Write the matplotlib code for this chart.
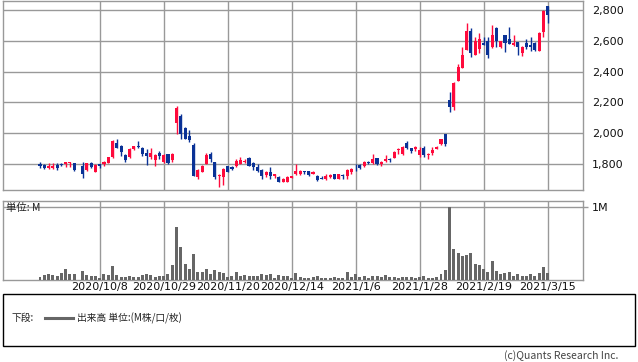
"""Candlestick + volume chart (Quants Research style)."""
import matplotlib
matplotlib.use("Agg")
import matplotlib.pyplot as plt
import matplotlib.patches as mpatches
from matplotlib.lines import Line2D
import numpy as np

plt.rcParams['font.family'] = ['DejaVu Sans', 'Noto Sans CJK JP']
JP = ['Noto Sans CJK JP', 'DejaVu Sans']

nan = np.nan

# daily OHLC (index 9 = 2020/10/1, no trading)
opens = [1800, 1795, 1772, 1775, 1795, 1797, 1802, 1808, 1805, nan,
         1790, 1762, 1805, 1750, 1797, 1797, 1808, 1843, 1935, 1915,
         1858, 1848, 1897, 1915, 1905, 1870, 1845, 1825, 1870, 1812,
         1865, 1825, 2068, 2115, 2033, 1985, 1923, 1718, 1750, 1800,
         1868, 1813, 1720, 1717, 1785, 1780, 1785, 1802, 1815, 1842,
         1808, 1783, 1762, 1730, 1748, 1722, 1717, 1685, 1685, 1712,
         1735, 1737, 1754, 1752, 1735, 1725, 1712, 1700, 1715, 1732,
         1700, 1728, 1722, 1745, 1762, 1795, 1785, 1815, 1805, 1838,
         1798, 1817, 1835, 1840, 1890, 1862, 1935, 1903, 1900, 1857,
         1905, 1857, 1870, 1900, 1927, 1995, 2215, 2172, 2342, 2424,
         2540, 2666, 2510, 2550, 2585, 2597, 2557, 2683, 2557, 2635,
         2615, 2575, 2590, 2520, 2583, 2575, 2588, 2535, 2655, 2825]
highs = [1812, 1797, 1805, 1805, 1805, 1805, 1815, 1812, 1805, nan,
         1812, 1808, 1810, 1798, 1800, 1822, 1845, 1955, 1960, 1925,
         1865, 1905, 1920, 1950, 1910, 1900, 1905, 1865, 1885, 1865,
         1868, 1870, 2175, 2125, 2040, 2020, 1935, 1765, 1792, 1870,
         1880, 1815, 1735, 1775, 1790, 1790, 1835, 1848, 1835, 1845,
         1810, 1797, 1765, 1752, 1782, 1738, 1720, 1708, 1722, 1725,
         1800, 1760, 1755, 1755, 1752, 1728, 1720, 1735, 1738, 1738,
         1735, 1737, 1770, 1772, 1800, 1797, 1818, 1818, 1865, 1842,
         1820, 1860, 1838, 1882, 1905, 1920, 1950, 1905, 1918, 1910,
         1920, 1870, 1910, 1920, 1965, 1998, 2265, 2333, 2450, 2560,
         2715, 2685, 2625, 2650, 2625, 2625, 2700, 2690, 2600, 2637,
         2690, 2640, 2592, 2565, 2615, 2625, 2590, 2660, 2800, 2828]
lows = [1775, 1765, 1765, 1768, 1762, 1785, 1780, 1780, 1755, nan,
        1712, 1752, 1775, 1748, 1775, 1785, 1805, 1838, 1905, 1850,
        1815, 1840, 1890, 1905, 1855, 1795, 1835, 1790, 1830, 1805,
        1800, 1810, 1995, 1965, 1960, 1940, 1720, 1705, 1745, 1798,
        1810, 1705, 1650, 1665, 1745, 1760, 1783, 1798, 1805, 1785,
        1760, 1748, 1705, 1718, 1700, 1712, 1682, 1680, 1683, 1708,
        1730, 1730, 1732, 1722, 1735, 1690, 1700, 1697, 1710, 1700,
        1700, 1700, 1700, 1738, 1755, 1765, 1780, 1798, 1800, 1795,
        1790, 1812, 1810, 1838, 1865, 1860, 1900, 1870, 1885, 1845,
        1845, 1835, 1860, 1898, 1922, 1920, 2140, 2150, 2340, 2422,
        2538, 2495, 2505, 2520, 2570, 2490, 2555, 2560, 2555, 2530,
        2578, 2565, 2510, 2500, 2545, 2535, 2535, 2533, 2625, 2715]
closes = [1785, 1772, 1788, 1790, 1772, 1795, 1813, 1811, 1758, nan,
          1737, 1805, 1782, 1795, 1785, 1815, 1843, 1952, 1905, 1875,
          1828, 1897, 1915, 1908, 1868, 1855, 1872, 1860, 1850, 1860,
          1805, 1865, 2163, 1995, 1963, 1955, 1722, 1760, 1790, 1858,
          1830, 1717, 1728, 1770, 1748, 1768, 1818, 1827, 1822, 1790,
          1783, 1755, 1722, 1745, 1722, 1735, 1685, 1703, 1718, 1720,
          1757, 1752, 1750, 1728, 1748, 1695, 1705, 1725, 1730, 1705,
          1733, 1722, 1760, 1765, 1758, 1775, 1815, 1805, 1830, 1800,
          1815, 1833, 1825, 1880, 1895, 1913, 1903, 1882, 1910, 1891,
          1857, 1865, 1890, 1912, 1965, 1927, 2172, 2328, 2428, 2510,
          2666, 2523, 2600, 2615, 2573, 2510, 2635, 2600, 2597, 2585,
          2580, 2585, 2557, 2560, 2560, 2560, 2540, 2650, 2795, 2770]

# volume in millions
volume = [0.041, 0.068, 0.078, 0.068, 0.055, 0.091, 0.150, 0.078, 0.082, 0.0,
          0.123, 0.068, 0.050, 0.060, 0.032, 0.078, 0.068, 0.190, 0.068, 0.046,
          0.046, 0.055, 0.046, 0.046, 0.073, 0.078, 0.068, 0.046, 0.055, 0.055,
          0.082, 0.205, 0.717, 0.443, 0.220, 0.150, 0.356, 0.110, 0.110, 0.150,
          0.082, 0.132, 0.114, 0.100, 0.046, 0.060, 0.105, 0.060, 0.068, 0.060,
          0.060, 0.060, 0.078, 0.064, 0.078, 0.027, 0.068, 0.055, 0.050, 0.032,
          0.096, 0.041, 0.032, 0.032, 0.036, 0.060, 0.032, 0.032, 0.032, 0.041,
          0.032, 0.032, 0.110, 0.041, 0.078, 0.036, 0.055, 0.032, 0.055, 0.055,
          0.041, 0.068, 0.036, 0.036, 0.027, 0.041, 0.041, 0.041, 0.032, 0.046,
          0.055, 0.032, 0.032, 0.046, 0.078, 0.132, 1.000, 0.425, 0.370, 0.330,
          0.340, 0.370, 0.220, 0.205, 0.150, 0.110, 0.260, 0.123, 0.082, 0.096,
          0.110, 0.055, 0.082, 0.055, 0.055, 0.082, 0.055, 0.096, 0.178, 0.096]

date_idx = [14, 29, 44, 59, 74, 89, 104, 119]
date_labels = ["2020/10/8", "2020/10/29", "2020/11/20", "2020/12/14",
               "2021/1/6", "2021/1/28", "2021/2/19", "2021/3/15"]
price_ticks = [1800, 2000, 2200, 2400, 2600, 2800]

UP = "#FF0A3C"
DOWN = "#0A3296"
GRID = "#999999"

o = np.array(opens, float)
h = np.array(highs, float)
l = np.array(lows, float)
c = np.array(closes, float)
x = np.arange(len(o))
up = c >= o
colors = np.where(up, UP, DOWN)

fig = plt.figure(figsize=(6.38, 3.62), dpi=100)
fig.patch.set_facecolor("white")

# ── price panel ──
ax = fig.add_axes([0.0052, 0.4751, 0.908, 0.5235])
ax.vlines(x, l, h, colors=colors, linewidth=1.0, zorder=3)
body_lo = np.minimum(o, c)
body_h = np.maximum(np.abs(c - o), 4)
ax.bar(x, body_h, bottom=body_lo, width=0.72, color=colors, linewidth=0, zorder=4)
ax.set_xlim(-8.6, 127.2)
ax.set_ylim(1631, 2862)
ax.set_yticks(price_ticks)
ax.set_yticklabels([f"{v:,}" for v in price_ticks])
ax.yaxis.tick_right()
ax.tick_params(axis="y", length=0, pad=6.5, labelsize=8, colors="#111111")
ax.set_xticks(date_idx)
ax.tick_params(axis="x", length=0, labelbottom=False)
ax.grid(True, color=GRID, linewidth=1.0, zorder=0)
ax.set_axisbelow(True)
for sp in ax.spines.values():
    sp.set_color(GRID)
    sp.set_linewidth(1.0)

# ── volume panel ──
av = fig.add_axes([0.0052, 0.2265, 0.908, 0.2169])
av.bar(x, volume, width=0.7, color="#666666", linewidth=0, zorder=3)
av.set_xlim(-8.6, 127.2)
av.set_ylim(0, 1.07)
av.set_yticks([1.0])
av.set_yticklabels(["1M"])
av.yaxis.tick_right()
av.tick_params(axis="y", length=3.6, width=1.0, color=GRID, pad=3, labelsize=8,
               labelcolor="#111111")
av.set_xticks(date_idx)
av.set_xticklabels(date_labels)
av.tick_params(axis="x", length=0, pad=1.5, labelsize=8, labelcolor="#111111")
av.grid(True, color=GRID, linewidth=1.0, zorder=0)
av.set_axisbelow(True)
for sp in av.spines.values():
    sp.set_color(GRID)
    sp.set_linewidth(1.0)
av.text(0.004, 0.985, "単位: M", transform=av.transAxes, ha="left", va="top",
        fontsize=7.5, color="#222222", family=JP)

# ── legend box ──
box = mpatches.Rectangle((0.0047, 0.0442), 0.9906, 0.1436, transform=fig.transFigure,
                         facecolor="white", edgecolor="black", linewidth=1.0)
fig.patches.append(box)
ly = 1 - 318 / 362
fig.text(12 / 638, ly, "下段:", ha="left", va="center", fontsize=7, color="#222222",
         family=JP)
fig.lines.append(Line2D([45 / 638, 73 / 638], [ly, ly], transform=fig.transFigure,
                        color="#666666", linewidth=2.2))
fig.text(77 / 638, ly, "出来高 単位:(M株/口/枚)", ha="left", va="center",
         fontsize=7, color="#222222", family=JP)

fig.text(618 / 638, 1 - 356 / 362, "(c)Quants Research Inc.", ha="right",
         va="center", fontsize=7.5, color="#444444", family=JP)

fig.savefig("out.png", dpi=100)
